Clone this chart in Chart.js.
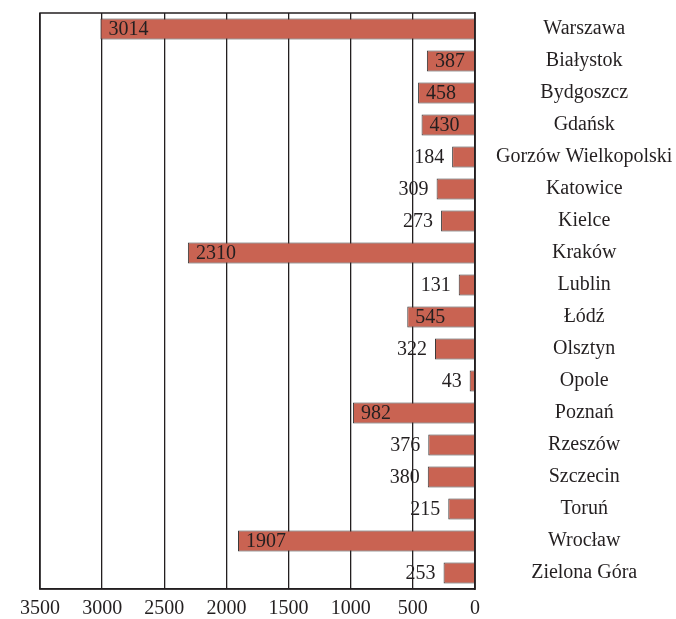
<!DOCTYPE html>
<html>
<head>
<meta charset="utf-8">
<script src="https://cdn.jsdelivr.net/npm/chart.js@4/dist/chart.umd.min.js"></script>
<style>
  html, body { margin: 0; padding: 0; background: #fff; }
  #wrap { width: 676px; height: 619px; }
</style>
</head>
<body>
<div id="wrap"><canvas id="chart"></canvas></div>
<script>
// Cities and their values
const cities = ['Warszawa', 'Białystok', 'Bydgoszcz', 'Gdańsk', 'Gorzów Wielkopolski', 'Katowice',
  'Kielce', 'Kraków', 'Lublin', 'Łódź', 'Olsztyn', 'Opole', 'Poznań', 'Rzeszów', 'Szczecin',
  'Toruń', 'Wrocław', 'Zielona Góra'];
const values = [3014, 387, 458, 430, 184, 309, 273, 2310, 131, 545, 322, 43, 982, 376, 380, 215, 1907, 253];
const axisMax = 3500;
const axisStep = 500;

const FONT = '"Liberation Serif", "Times New Roman", serif';
const INK = '#231f20';

// Value labels: inside the bar when it is long enough, otherwise to its left
const valueLabels = {
  id: 'valueLabels',
  afterDatasetsDraw(chart) {
    const ctx = chart.ctx;
    const meta = chart.getDatasetMeta(0);
    ctx.save();
    ctx.font = '20px ' + FONT;
    ctx.fillStyle = INK;
    ctx.textBaseline = 'middle';
    meta.data.forEach((bar, i) => {
      const v = values[i];
      const y = bar.y + 1;
      if (v >= 385) {
        ctx.textAlign = 'left';
        ctx.fillText(String(v), bar.x + 8, y);
      } else {
        ctx.textAlign = 'right';
        ctx.fillText(String(v), bar.x - 8, y);
      }
    });
    ctx.restore();
  }
};

// Frame round the plot area
const frame = {
  id: 'frame',
  afterDraw(chart) {
    const a = chart.chartArea;
    const ctx = chart.ctx;
    ctx.save();
    ctx.strokeStyle = INK;
    ctx.lineWidth = 1.5;
    ctx.strokeRect(a.left, a.top, a.right - a.left, a.bottom - a.top);
    ctx.restore();
  }
};

new Chart(document.getElementById('chart'), {
  type: 'bar',
  data: {
    labels: cities,
    datasets: [{
      data: values,
      backgroundColor: '#c96352',
      borderColor: '#3a3a3a',
      borderWidth: 1,
      borderSkipped: 'start',
      barPercentage: 0.66,
      categoryPercentage: 1
    }]
  },
  options: {
    indexAxis: 'y',
    responsive: true,
    maintainAspectRatio: false,
    animation: false,
    layout: { padding: { top: 13, left: 40, right: 0, bottom: 0 } },
    plugins: {
      legend: { display: false },
      tooltip: { enabled: false }
    },
    scales: {
      x: {
        reverse: true,
        min: 0,
        max: axisMax,
        afterFit(scale) { scale.height = 30; },
        ticks: {
          stepSize: axisStep,
          color: INK,
          padding: 8,
          maxRotation: 0,
          font: { family: FONT, size: 20 },
          callback: (v) => String(v)
        },
        grid: { color: INK, lineWidth: 1.3, drawTicks: false },
        border: { color: INK, width: 1.5 }
      },
      y: {
        position: 'right',
        afterFit(scale) {
          scale.width = 201;
          scale.paddingTop = 0;
          scale.paddingBottom = 0;
        },
        ticks: {
          crossAlign: 'center',
          padding: 21,
          color: INK,
          font: { family: FONT, size: 20 }
        },
        grid: { display: false, drawTicks: false },
        border: { color: INK, width: 1.5 }
      }
    }
  },
  plugins: [valueLabels, frame]
});
</script>
</body>
</html>
